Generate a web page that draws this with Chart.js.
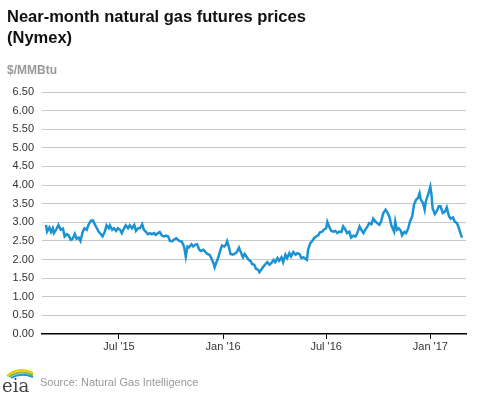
<!DOCTYPE html>
<html>
<head>
<meta charset="utf-8">
<script src="https://cdn.jsdelivr.net/npm/chart.js@4"></script>
<style>
	body { margin: 0; background: #fff; font-family: "Liberation Sans", Arial, sans-serif; }
	#wrap { position: relative; width: 477px; height: 393px; overflow: hidden; }
	#chart { position: absolute; left: 0; top: 0; }
	.title { position: absolute; left: 7px; top: 6px; font-size: 16.5px; font-weight: bold; color: #111; line-height: 21px; }
	.units { position: absolute; left: 7px; top: 63px; font-size: 12px; font-weight: bold; color: #999; }
	.source { position: absolute; left: 40px; top: 376px; font-size: 11px; color: #999; }
	#logo { position: absolute; left: 1px; top: 364px; }
</style>
</head>
<body>
<div id="wrap">
	<canvas id="chart" width="477" height="393"></canvas>
	<div class="title">Near-month natural gas futures prices<br>(Nymex)</div>
	<div class="units">$/MMBtu</div>
	<svg id="logo" width="36" height="29" viewBox="0 0 36 29">
		<path d="M6 12 Q17 2 32 9" stroke="#f2c500" stroke-width="2" fill="none"/>
		<path d="M8 13 Q18 5 32 11" stroke="#7dbb42" stroke-width="2" fill="none"/>
		<path d="M10 14 Q20 8 32 13" stroke="#1a9ad6" stroke-width="2" fill="none"/>
		<text x="1" y="28" font-family="DejaVu Serif, serif" font-size="18" fill="#444">eia</text>
	</svg>
	<div class="source">Source: Natural Gas Intelligence</div>
</div>
<script>
// days since 2015-07-01
const days = [
	-129, -127, -123, -120, -117, -115, -111, -107, -103, -99, -96, -92, -89, -85, -82, -78, -75, -71, -68, -64,
	-61, -57, -54, -50, -46, -43, -39, -36, -32, -29, -25, -22, -18, -16, -12, -9, -5, -2, 2, 5,
	9, 12, 16, 19, 23, 27, 30, 34, 37, 41, 44, 48, 51, 55, 58, 62, 65, 69, 72, 76,
	80, 83, 87, 90, 94, 97, 101, 104, 108, 111, 115, 118, 121, 124, 128, 131, 135, 138, 142, 145,
	149, 152, 156, 160, 163, 167, 169, 171, 175, 178, 182, 186, 189, 191, 194, 197, 201, 204, 208, 212,
	215, 219, 222, 226, 229, 233, 235, 239, 242, 246, 248, 251, 255, 259, 262, 266, 269, 273, 276, 280,
	283, 287, 290, 294, 297, 301, 304, 308, 312, 315, 319, 322, 326, 329, 332, 334, 338, 341, 345, 348,
	352, 355, 359, 362, 366, 368, 372, 375, 379, 382, 386, 389, 393, 396, 400, 403, 407, 410, 414, 418,
	421, 425, 428, 432, 435, 439, 442, 446, 449, 453, 456, 460, 463, 467, 471, 474, 478, 481, 486, 488,
	491, 494, 498, 500, 504, 507, 511, 514, 518, 521, 525, 528, 531, 533, 537, 540, 542, 546, 550, 552,
	554, 558, 561, 565, 568, 572, 576, 579, 583, 586, 590, 593, 597, 600, 604, 606
];
const prices = [
	2.93, 2.75, 2.86, 2.74, 2.84, 2.71, 2.80, 2.93, 2.80, 2.83, 2.62, 2.68, 2.65, 2.53, 2.55, 2.69, 2.56, 2.59, 2.50, 2.75,
	2.84, 2.80, 2.93, 3.04, 3.05, 2.95, 2.84, 2.75, 2.68, 2.62, 2.75, 2.92, 2.84, 2.92, 2.80, 2.84, 2.77, 2.84, 2.80, 2.71,
	2.84, 2.92, 2.84, 2.92, 2.84, 2.93, 2.77, 2.84, 2.84, 2.95, 2.80, 2.74, 2.68, 2.71, 2.68, 2.71, 2.66, 2.71, 2.74, 2.64,
	2.62, 2.64, 2.62, 2.50, 2.49, 2.53, 2.57, 2.53, 2.49, 2.48, 2.35, 2.08, 2.35, 2.33, 2.41, 2.35, 2.40, 2.41, 2.26, 2.23,
	2.26, 2.22, 2.15, 2.13, 2.04, 1.90, 1.79, 1.88, 2.04, 2.20, 2.38, 2.35, 2.40, 2.49, 2.35, 2.15, 2.13, 2.15, 2.20, 2.32,
	2.20, 2.06, 2.15, 2.06, 1.99, 1.95, 1.88, 1.86, 1.75, 1.72, 1.66, 1.72, 1.81, 1.88, 1.93, 1.86, 1.90, 1.99, 1.93, 2.04,
	1.97, 2.06, 1.93, 2.13, 2.04, 2.17, 2.08, 2.20, 2.13, 2.17, 2.15, 2.04, 2.06, 2.02, 1.99, 2.26, 2.44, 2.49, 2.58, 2.62,
	2.65, 2.73, 2.75, 2.80, 2.84, 3.01, 2.86, 2.77, 2.75, 2.77, 2.71, 2.75, 2.74, 2.89, 2.80, 2.71, 2.75, 2.59, 2.64, 2.62,
	2.71, 2.89, 2.80, 2.71, 2.80, 2.89, 2.98, 2.95, 3.10, 3.02, 2.98, 2.93, 3.02, 3.25, 3.34, 3.27, 3.13, 2.92, 2.75, 3.02,
	2.80, 2.84, 2.77, 2.65, 2.74, 2.71, 2.84, 3.02, 3.16, 3.47, 3.61, 3.65, 3.78, 3.61, 3.52, 3.34, 3.56, 3.74, 3.96, 3.74,
	3.38, 3.22, 3.29, 3.43, 3.43, 3.25, 3.29, 3.40, 3.16, 3.10, 3.13, 3.02, 2.98, 2.86, 2.67, 2.59
];
const tickDays = [0, 184, 366, 550];
const tickLabels = ["Jul '15", "Jan '16", "Jul '16", "Jan '17"];
const xMin = -136, xMax = 613;

const points = days.map((d, i) => ({ x: d, y: prices[i] }));

new Chart("chart", {
	type: "line",
	data: {
		datasets: [{
			data: points,
			borderColor: "#1b93d3",
			borderWidth: 2.5,
			pointRadius: 0,
			tension: 0,
			fill: false,
		}],
	},
	options: {
		responsive: false,
		animation: false,
		layout: { padding: { top: 92, right: 11, left: 0, bottom: 0 } },
		plugins: { legend: { display: false }, tooltip: { enabled: false } },
		scales: {
			x: {
				type: "linear",
				min: xMin,
				max: xMax,
				afterBuildTicks: (scale) => {
					scale.ticks = tickDays.map((v) => ({ value: v }));
				},
				afterFit: (scale) => { scale.height = 59; },
				grid: { drawOnChartArea: false, drawTicks: true, tickLength: 5, color: "#000" },
				border: { display: true, color: "#000", width: 1.5 },
				ticks: {
					padding: 1,
					color: "#333",
					font: { family: "Liberation Sans", size: 11 },
					maxRotation: 0,
					callback: (v) => tickLabels[tickDays.indexOf(v)],
				},
			},
			y: {
				min: 0,
				max: 6.5,
				afterFit: (scale) => { scale.width = 42; },
				grid: {
					drawTicks: false,
					color: (ctx) => (ctx.tick.value === 0 ? "rgba(0,0,0,0)" : "#c8c8c8"),
				},
				border: { display: false },
				ticks: {
					stepSize: 0.5,
					padding: 8,
					color: "#333",
					font: { family: "Liberation Sans", size: 11 },
					callback: (v) => v.toFixed(2),
				},
			},
		},
	},
});
</script>
</body>
</html>
